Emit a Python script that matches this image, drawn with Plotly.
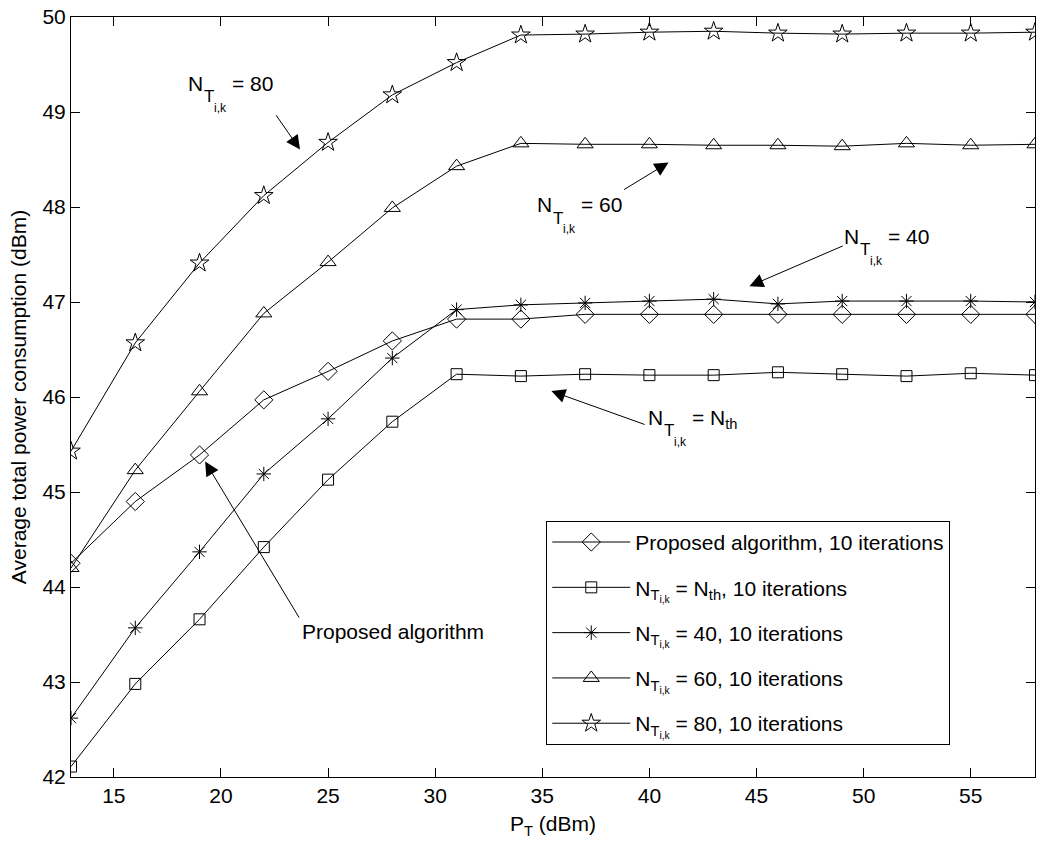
import plotly.graph_objects as go

# ---------------- data ----------------
P_T = [13, 16, 19, 22, 25, 28, 31, 34, 37, 40, 43, 46, 49, 52, 55, 58]
proposed = [44.25, 44.90, 45.39, 45.97, 46.27, 46.59, 46.82, 46.82, 46.87, 46.87,
            46.87, 46.87, 46.87, 46.87, 46.87, 46.87]
n_th = [42.11, 42.98, 43.66, 44.42, 45.13, 45.74, 46.24, 46.22, 46.24, 46.23,
        46.23, 46.26, 46.24, 46.22, 46.25, 46.23]
n_40 = [42.62, 43.57, 44.37, 45.19, 45.77, 46.41, 46.92, 46.97, 46.99, 47.01,
        47.03, 46.98, 47.01, 47.01, 47.01, 47.00]
n_60 = [44.20, 45.23, 46.06, 46.88, 47.42, 47.99, 48.43, 48.67, 48.66, 48.66,
        48.65, 48.65, 48.64, 48.67, 48.65, 48.66]
n_80 = [45.43, 46.57, 47.41, 48.12, 48.68, 49.18, 49.52, 49.81, 49.82, 49.84,
        49.85, 49.83, 49.82, 49.83, 49.83, 49.84]

x_ticks = [15, 20, 25, 30, 35, 40, 45, 50, 55]
y_ticks = [42, 43, 44, 45, 46, 47, 48, 49, 50]

NT = "N<sub>T<sub>i,k</sub></sub>"
names = [
    "Proposed algorithm, 10 iterations",
    NT + " = N<sub>th</sub>, 10 iterations",
    NT + " = 40, 10 iterations",
    NT + " = 60, 10 iterations",
    NT + " = 80, 10 iterations",
]
series = [proposed, n_th, n_40, n_60, n_80]
symbols = ["diamond-open", "square-open", "asterisk-open", "triangle-up-open", "star-open"]
sizes = [14, 11, 12, 14, 14]

FONT = "Liberation Sans, Arial, Helvetica, sans-serif"

fig = go.Figure()
for i, (nm, ys, sym, sz) in enumerate(zip(names, series, symbols, sizes)):
    fig.add_trace(go.Scatter(
        x=P_T, y=ys, mode="lines+markers", name=nm, legendgroup="g%d" % i,
        line=dict(color="black", width=1),
        marker=dict(symbol=sym, size=sz, color="black", line=dict(color="black", width=1)),
    ))

# pixel -> data helpers for annotation placement
X0, XS = 70.7, 21.45
Y0, YS = 14.0, 95.3
def dx(px):
    return 13 + (px - X0) / XS
def dy(py):
    return 50 - (py - Y0) / YS

annotations = []
def add_text(t, left, baseline, size):
    top = baseline - 0.905 * size
    annotations.append(dict(x=dx(left), y=dy(top), xref="x", yref="y", text=t,
                            showarrow=False, xanchor="left", yanchor="top", borderpad=0,
                            font=dict(family=FONT, size=size, color="black")))

def add_nt_label(left, baseline, tail):
    add_text("N", left, baseline, 21)
    add_text("T", left + 16, baseline + 11.5, 17)
    add_text("i,k", left + 26, baseline + 21, 12)
    add_text(tail, left + 44, baseline, 21)

add_nt_label(187, 86.7, "= 80")
add_nt_label(536, 209, "= 60")
add_nt_label(844, 241, "= 40")
add_nt_label(647, 422, "= N<sub>th</sub>")
add_text("Proposed algorithm", 301, 637, 21)

arrows = [
    ((275, 111), (300, 147)),
    ((623, 188), (669, 160)),
    ((845, 243), (750, 284)),
    ((646.6, 423.3), (551.7, 389.3)),
    ((300, 618), (205, 460)),
]
for (tx, ty), (hx, hy) in arrows:
    annotations.append(dict(x=dx(hx), y=dy(hy), ax=dx(tx), ay=dy(ty),
                            xref="x", yref="y", axref="x", ayref="y", text="",
                            showarrow=True, arrowhead=2, arrowsize=2.8, arrowwidth=1,
                            arrowcolor="black", standoff=0, startstandoff=0))

axis_common = dict(
    showline=True, linecolor="black", linewidth=1, mirror="ticks",
    ticks="inside", ticklen=9, tickcolor="black", tickwidth=1,
    showgrid=False, zeroline=False,
    tickfont=dict(family=FONT, size=21, color="black"),
)

fig.update_layout(
    width=1041, height=842,
    margin=dict(l=71, r=5, t=14, b=65),
    paper_bgcolor="white", plot_bgcolor="white",
    font=dict(family=FONT, size=21, color="black"),
    xaxis=dict(range=[13, 58], tickvals=x_ticks,
               title=dict(text="P<sub>T</sub> (dBm)", font=dict(family=FONT, size=21), standoff=10),
               **axis_common),
    yaxis=dict(range=[42, 50], tickvals=y_ticks,
               title=dict(text="Average total power consumption (dBm)", font=dict(family=FONT, size=21), standoff=10),
               **axis_common),
    legend=dict(x=0.493, y=0.337, xanchor="left", yanchor="top",
                bgcolor="white", bordercolor="black", borderwidth=1,
                itemwidth=78, tracegroupgap=15, entrywidth=345, entrywidthmode="pixels",
                font=dict(family=FONT, size=21, color="black")),
    annotations=annotations,
    showlegend=True,
)

fig.write_html("out.html")
